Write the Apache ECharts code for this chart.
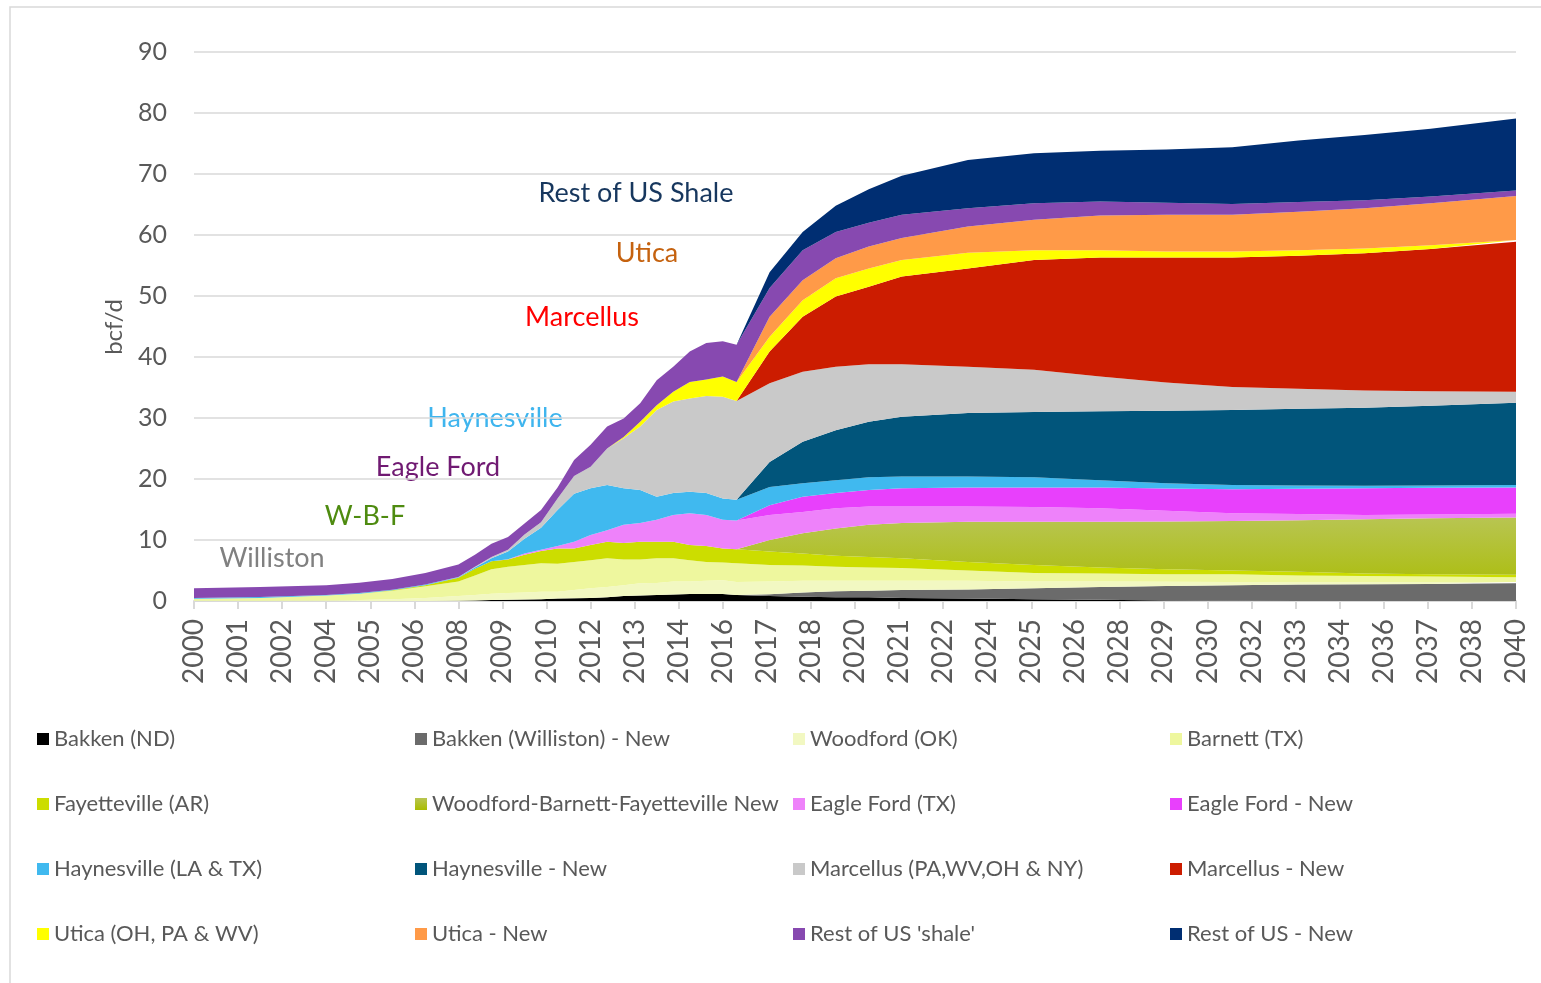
<!DOCTYPE html>
<html>
<head>
<meta charset="utf-8">
<script src="https://cdn.jsdelivr.net/npm/echarts@6/dist/echarts.min.js"></script>
<style>
html,body{margin:0;padding:0;background:#fff;}
#chart{width:1541px;height:983px;}
</style>
</head>
<body>
<div id="chart"></div>
<script>
// x positions: months since Jan 2000
const months = [0,24,48,60,72,84,96,102,108,114,120,126,132,138,144,150,156,162,168,174,180,186,192,197,209,221,233,245,257,281,305,329,353,377,401,425,449,480];
// x-axis tick labels (one every 16 months)
const tickLabels = ['2000','2001','2002','2004','2005','2006','2008','2009','2010','2012','2013','2014','2016','2017','2018','2020','2021','2022','2024','2025','2026','2028','2029','2030','2032','2033','2034','2036','2037','2038','2040'];

// series values, bcf/d
const bakkenND = [0,0,0,0,0,0.02,0.05,0.1,0.15,0.2,0.25,0.3,0.4,0.45,0.5,0.6,0.8,0.9,1.0,1.05,1.15,1.15,1.15,1.0, 0.8,0.7,0.6,0.6,0.5,0.4,0.3,0.2,0.1,0.05,0,0,0,0];
const bakkenNew = [0,0,0,0,0,0,0,0,0,0,0,0,0,0,0,0,0,0,0,0,0,0,0,0, 0.3,0.7,1.0,1.1,1.3,1.5,1.8,2.1,2.35,2.55,2.7,2.75,2.8,2.9];
const woodford = [0.05,0.05,0.1,0.15,0.3,0.48,0.75,0.9,1.05,1.1,1.15,1.2,1.1,1.35,1.6,1.7,1.8,2.0,1.95,2.15,2.05,2.15,2.25,2.1, 2.1,1.9,1.7,1.6,1.5,1.4,1.1,0.9,0.7,0.5,0.4,0.35,0.3,0.2];
const barnett = [0.3,0.45,0.8,1.05,1.4,1.9,2.4,3.2,4.0,4.3,4.5,4.7,4.6,4.6,4.6,4.7,4.2,3.9,4.05,3.8,3.5,3.1,2.9,3.1, 2.7,2.5,2.3,2.2,2.1,1.7,1.4,1.3,1.25,1.3,1.1,1.0,0.9,0.8];
const fayetteville = [0,0,0,0,0.05,0.2,0.6,1.1,1.3,1.2,1.7,2.0,2.5,2.2,2.5,2.7,2.7,2.9,2.7,2.7,2.5,2.6,2.3,2.3, 2.2,2.0,1.8,1.7,1.6,1.4,1.3,1.0,0.8,0.6,0.6,0.4,0.4,0.4];
const wbfNew = [0,0,0,0,0,0,0,0,0,0,0,0,0,0,0,0,0,0,0,0,0,0,0,0, 1.9,3.3,4.5,5.3,5.8,6.6,7.1,7.5,7.85,8.1,8.45,8.9,9.15,9.4];
const eagleFord = [0,0,0,0,0,0,0,0,0,0.05,0.2,0.2,0.4,1.1,1.6,1.9,3.0,3.1,3.6,4.4,5.2,5.1,4.7,4.7, 4.1,3.5,3.3,3.0,2.7,2.5,2.4,2.2,1.75,1.3,1.0,0.7,0.65,0.6];
const eagleFordNew = [0,0,0,0,0,0,0,0,0,0,0,0,0,0,0,0,0,0,0,0,0,0,0,0, 1.6,2.5,2.5,2.7,3.0,3.1,3.2,3.4,3.65,3.9,4.15,4.4,4.35,4.3];
const haynesville = [0.15,0.15,0.1,0.1,0.1,0.1,0.1,0.2,0.5,1.25,2.4,3.6,5.9,7.9,7.7,7.4,6.0,5.4,3.8,3.6,3.5,3.6,3.5,3.4, 3.0,2.2,2.1,2.1,1.9,1.8,1.7,1.2,0.85,0.7,0.55,0.4,0.4,0.4];
const haynesvilleNew = [0,0,0,0,0,0,0,0,0,0,0,0,0,0,0,0,0,0,0,0,0,0,0,0, 4.1,6.8,8.2,9.1,9.8,10.4,10.7,11.3,11.9,12.3,12.55,12.8,13.05,13.5];
const marcellus = [0,0,0,0,0,0,0.05,0.1,0.2,0.3,0.7,0.9,1.9,2.9,3.5,6.0,8.2,10.4,14.2,15.0,15.3,15.9,16.7,16.2, 12.9,11.5,10.4,9.4,8.6,7.6,6.9,5.7,4.6,3.8,3.3,2.8,2.4,1.8];
const marcellusNew = [0,0,0,0,0,0,0,0,0,0,0,0,0,0,0,0,0,0,0,0,0,0,0,0, 5.2,9.0,11.5,12.7,14.4,16.1,18.0,19.5,20.5,21.2,21.8,22.5,23.3,24.6];
const utica = [0,0,0,0,0,0,0,0,0,0,0,0,0,0,0,0,0.2,0.8,0.8,1.6,2.7,2.7,3.3,3.1, 2.4,2.7,3.0,3.0,2.7,2.6,1.6,1.2,1.0,1.0,0.9,0.8,0.6,0.3];
const uticaNew = [0,0,0,0,0,0,0,0,0,0,0,0,0,0,0,0,0,0,0,0,0,0,0,0, 3.3,3.3,3.3,3.6,3.6,4.3,5.0,5.7,6.0,6.0,6.3,6.6,6.9,7.2];
const restShale = [1.6,1.65,1.6,1.7,1.75,1.9,2.05,2.0,2.2,2.1,1.8,2.0,1.8,2.6,3.6,3.6,3.0,3.0,4.1,4.1,5.0,6.0,5.8,6.1, 4.7,4.9,4.3,3.9,3.8,3.0,2.7,2.3,2.0,1.8,1.6,1.3,1.1,0.9];
const restNew = [0,0,0,0,0,0,0,0,0,0,0,0,0,0,0,0,0,0,0,0,0,0,0,0, 2.6,3.0,4.3,5.5,6.4,7.9,8.2,8.3,8.7,9.3,10.1,10.7,11.1,11.8];

const seriesNames = ['Bakken (ND)','Bakken (Williston) - New','Woodford (OK)','Barnett (TX)',
  'Fayetteville (AR)','Woodford-Barnett-Fayetteville New','Eagle Ford (TX)','Eagle Ford - New',
  'Haynesville (LA & TX)','Haynesville - New','Marcellus (PA,WV,OH & NY)','Marcellus - New',
  'Utica (OH, PA & WV)','Utica - New',"Rest of US 'shale'",'Rest of US - New'];
const seriesValues = [bakkenND,bakkenNew,woodford,barnett,fayetteville,wbfNew,eagleFord,eagleFordNew,
  haynesville,haynesvilleNew,marcellus,marcellusNew,utica,uticaNew,restShale,restNew];

const oliveGrad = new echarts.graphic.LinearGradient(0,0,0,1,[{offset:0,color:'#B8C552'},{offset:1,color:'#A9BC00'}]);
const seriesColors = ['#000000','#6B6B6B','#F2F8C2','#EEF79E','#CCDD00',oliveGrad,'#EE82FA','#E840FC',
  '#40B9EF','#01557B','#C9C9C9','#CC1C00','#FFFF00','#FF9A48','#8749B0','#002E72'];

// value first, month second: the first numeric column is the one ECharts stacks
const series = seriesNames.map((name,i)=>({
  name: name,
  type: 'line',
  stack: 'total',
  stackStrategy: 'all',
  encode: {x: 1, y: 0},
  data: months.map((m,k)=>[seriesValues[i][k], m]),
  symbol: 'none',
  showSymbol: false,
  smooth: false,
  color: seriesColors[i],
  itemStyle: {color: seriesColors[i]},
  lineStyle: {width: 0, opacity: 0},
  areaStyle: {color: seriesColors[i], opacity: 1},
  emphasis: {disabled: true},
  silent: true
}));

const legendCols = [
  [0,4,8,12],[1,5,9,13],[2,6,10,14],[3,7,11,15]
];
const legendLeft = [37,415,793,1170];
const legends = legendCols.map((col,ci)=>({
  orient: 'vertical',
  left: legendLeft[ci],
  top: 727,
  padding: 0,
  icon: 'rect',
  itemWidth: 12,
  itemHeight: 12,
  itemGap: 41,
  selectedMode: false,
  data: col.map(i=>seriesNames[i]),
  textStyle: {color:'#595959', fontSize: 22, fontFamily: 'Lato', lineHeight: 24}
}));

const labelFont = 'Lato';
const annotations = [
  {t:'Rest of US Shale', x:636, y:193, c:'#17375E'},
  {t:'Utica', x:647, y:253, c:'#C5620F'},
  {t:'Marcellus', x:582, y:317, c:'#FF0000'},
  {t:'Haynesville', x:495, y:418, c:'#3FB5EE'},
  {t:'Eagle Ford', x:438, y:467, c:'#701A72'},
  {t:'W-B-F', x:365, y:516, c:'#4E8B10'},
  {t:'Williston', x:272, y:558, c:'#808080'}
];

const chart = echarts.init(document.getElementById('chart'), null, {renderer:'canvas'});
chart.setOption({
  animation: false,
  backgroundColor: '#ffffff',
  grid: {left: 194, right: 25, top: 52, bottom: 382},
  xAxis: {
    type: 'value',
    min: 0, max: 480, interval: 16,
    axisLine: {show: true, lineStyle: {color:'#D9D9D9', width: 2}},
    axisTick: {show: true, length: 8, lineStyle: {color:'#D9D9D9', width: 2}},
    splitLine: {show: false},
    axisLabel: {
      rotate: 90, margin: 18, color:'#595959', fontSize: 28, fontFamily: labelFont,
      formatter: v => tickLabels[Math.round(v/16)] || ''
    }
  },
  yAxis: {
    type: 'value',
    min: 0, max: 90, interval: 10,
    axisLine: {show: false},
    axisTick: {show: false},
    splitLine: {show: true, lineStyle: {color:'#D9D9D9', width: 1.5}},
    axisLabel: {color:'#595959', fontSize: 25, fontFamily: labelFont, margin: 27}
  },
  legend: legends,
  series: series,
  graphic: [
    {type:'rect', silent:true, shape:{x:10, y:7, width:1600, height:1100}, style:{fill:'none', stroke:'#D9D9D9', lineWidth:1.5}},
    {type:'text', silent:true, x:114, y:327, rotation: Math.PI/2,
      style:{text:'bcf/d', fill:'#595959', fontSize:24, fontFamily:labelFont, align:'center', verticalAlign:'middle'}}
  ].concat(annotations.map(a=>({
    type:'text', silent:true, x:a.x, y:a.y,
    style:{text:a.t, fill:a.c, fontSize:27, fontFamily:labelFont, align:'center', verticalAlign:'middle'}
  })))
});
</script>
</body>
</html>
